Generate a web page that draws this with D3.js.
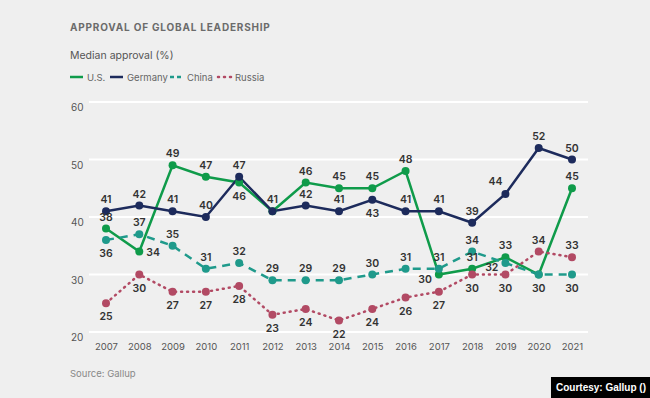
<html>
<head>
<script src="https://cdn.jsdelivr.net/npm/d3@7"></script>
<style>
  body { margin:0; background:#efefef; font-family:Inter, "Liberation Sans", sans-serif; }
  svg { display:block; }
</style>
</head>
<body>
<svg id="CANVAS"></svg>
<script>
var years = [2007,2008,2009,2010,2011,2012,2013,2014,2015,2016,2017,2018,2019,2020,2021];
var usVals      = [38,34,49,47,46,41,46,45,45,48,30,31,33,30,45];
var germanyVals = [41,42,41,40,47,41,42,41,43,41,41,39,44,52,50];
var chinaVals   = [36,37,35,31,32,29,29,29,30,31,31,34,32,30,30];
var russiaVals  = [25,30,27,27,28,23,24,22,24,26,27,30,30,34,33];
var yTicks = [20,30,40,50,60];

// where each value label sits: t=top b=bottom l=left r=right, "" = none
var usLab      = ["t","r","t","t","b","t","t","t","t","t","l","t","t","b","t"];
var germanyLab = ["t","t","t","t","t","","t","t","b","t","t","t","tl","t","t"];
var chinaLab   = ["b","t","t","t","t","t","t","t","t","t","t","t","l","","b"];
var russiaLab  = ["b","b","b","b","b","b","b","b","b","b","b","b","b","t","t"];

var series = [
  {name:"U.S.",    vals:usVals,      lab:usLab,      color:"#0f9b4a", dash:null},
  {name:"Germany", vals:germanyVals, lab:germanyLab, color:"#1d2b5c", dash:null},
  {name:"China",   vals:chinaVals,   lab:chinaLab,   color:"#1f9a8b", dash:"8,6"},
  {name:"Russia",  vals:russiaVals,  lab:russiaLab,  color:"#b24a64", dash:"1,5"}
];

var W = 650, H = 398;
var svg = d3.select("#CANVAS").attr("width", W).attr("height", H);

var x = d3.scalePoint().domain(years).range([106, 572]);
var y = d3.scaleLinear().domain([20, 60]).range([332, 102]);

// titles
svg.append("text").attr("x", 70).attr("y", 31)
  .attr("font-size", 10).attr("font-weight", 700).attr("fill", "#6b6b6b")
  .attr("letter-spacing", 0.8).text("APPROVAL OF GLOBAL LEADERSHIP");
svg.append("text").attr("x", 70).attr("y", 59)
  .attr("font-size", 10.5).attr("fill", "#555").text("Median approval (%)");

// legend
var leg = svg.append("g").attr("transform", "translate(70,77)");
var legX = [0, 40, 100, 148];
series.forEach(function (s, i) {
  var g = leg.append("g").attr("transform", "translate(" + legX[i] + ",0)");
  g.append("line").attr("x1", 0).attr("x2", 13).attr("y1", 0).attr("y2", 0)
    .attr("stroke", s.color).attr("stroke-width", 2.5)
    .attr("stroke-dasharray", s.name == "China" ? "4,3" : s.name == "Russia" ? "1,5" : null)
    .attr("stroke-linecap", s.name == "Russia" ? "round" : "butt");
  g.append("text").attr("x", 17).attr("y", 3.5).attr("font-size", 9.5)
    .attr("fill", "#666").text(s.name);
});

// grid
svg.append("g").selectAll("line").data(yTicks).enter().append("line")
  .attr("x1", 89).attr("x2", 588)
  .attr("y1", function (d) { return y(d); }).attr("y2", function (d) { return y(d); })
  .attr("stroke", "#fff").attr("stroke-width", 2);
svg.append("g").selectAll("text").data(yTicks).enter().append("text")
  .attr("x", 71).attr("y", function (d) { return y(d) + 9; })
  .attr("font-size", 10).attr("fill", "#555").text(function (d) { return d; });

// x axis labels
var xa = svg.append("g").attr("transform", "translate(0,347)")
  .call(d3.axisBottom(x).tickSize(0).tickFormat(d3.format("d")));
xa.select(".domain").remove();
xa.selectAll("text").attr("font-size", 9.5).attr("fill", "#555")
  .attr("font-family", "Inter, sans-serif").attr("dy", 0);

// lines and points
var line = d3.line().x(function (d, i) { return x(years[i]); }).y(function (d) { return y(d); });
series.forEach(function (s) {
  svg.append("path").datum(s.vals).attr("d", line)
    .attr("fill", "none").attr("stroke", s.color).attr("stroke-width", 2.5)
    .attr("stroke-dasharray", s.dash)
    .attr("stroke-linecap", s.name == "Russia" ? "round" : "butt");
});
series.forEach(function (s) {
  svg.append("g").selectAll("circle").data(s.vals).enter().append("circle")
    .attr("cx", function (d, i) { return x(years[i]); })
    .attr("cy", function (d) { return y(d); })
    .attr("r", 4).attr("fill", s.color);
});

// value labels
series.forEach(function (s) {
  var g = svg.append("g").attr("font-size", 10.5).attr("font-weight", 600).attr("fill", "#333");
  s.vals.forEach(function (v, i) {
    var p = s.lab[i];
    if (!p) return;
    var px = x(years[i]), py = y(v), dx = 0, dy = 0, anchor = "middle";
    if (p == "t") dy = -8;
    if (p == "b") dy = 17;
    if (p == "l") { dx = -7; dy = 8; anchor = "end"; }
    if (p == "r") { dx = 7; dy = 4; anchor = "start"; }
    if (p == "tl") { dx = -3; dy = -9; anchor = "end"; }
    g.append("text").attr("x", px + dx).attr("y", py + dy)
      .attr("text-anchor", anchor).text(v);
  });
});

// footer
svg.append("text").attr("x", 70).attr("y", 377).attr("font-size", 9.5)
  .attr("fill", "#888").text("Source: Gallup");
var cbox = svg.append("rect").attr("y", 377).attr("height", 21).attr("fill", "#000");
var ctext = svg.append("text").attr("x", 646).attr("y", 391).attr("font-size", 10).attr("font-weight", 700)
  .attr("text-anchor", "end").attr("fill", "#fff")
  .attr("font-family", "'Liberation Sans Narrow', 'Liberation Sans', Arial, sans-serif")
  .text("Courtesy: Gallup ()");
var bb = ctext.node().getBBox();
cbox.attr("x", bb.x - 5).attr("width", W - bb.x + 5);
</script>
</body>
</html>
